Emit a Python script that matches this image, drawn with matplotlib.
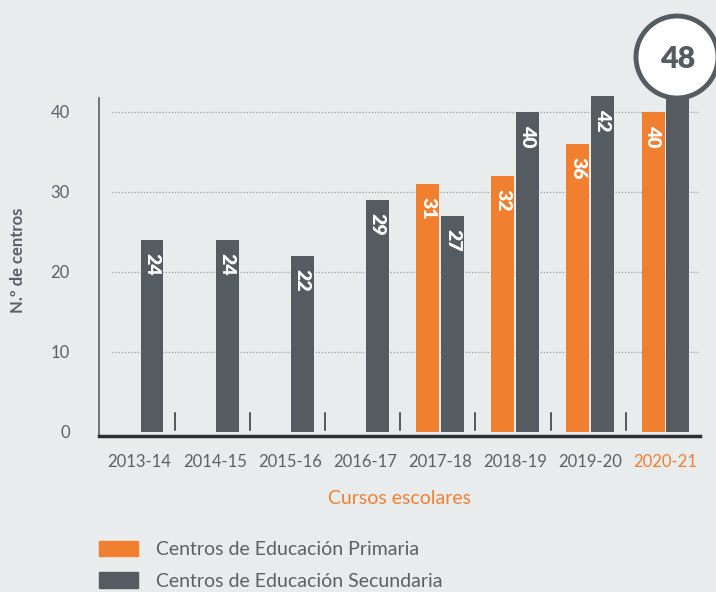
import matplotlib.pyplot as plt
import matplotlib.patches as mpatches
from matplotlib.transforms import IdentityTransform
import numpy as np

plt.rcParams['font.family'] = ['Lato', 'DejaVu Sans']

cursos = ['2013-14', '2014-15', '2015-16', '2016-17', '2017-18', '2018-19', '2019-20', '2020-21']
primaria = [0, 0, 0, 0, 31, 32, 36, 40]
secundaria = [24, 24, 22, 29, 27, 40, 42, 48]

fondo = '#e9ecec'
naranja = '#f08030'
gris = '#545b61'
texto = '#5a6166'

fig = plt.figure(figsize=(7.16, 5.92), dpi=100, facecolor=fondo)
ax = fig.add_axes([99 / 716, 156 / 592, 601 / 716, 338 / 592], facecolor=fondo)

x = np.arange(len(cursos))
w = 0.305
off = 0.165

# lineas de la cuadricula (punteadas)
for v in [10, 20, 30, 40]:
    ax.plot([-0.37, 7.46], [v, v], color='#9aa0a4', lw=0.9, linestyle=(0, (1, 1.5)), zorder=1)

for i in range(len(cursos)):
    if primaria[i] > 0:
        ax.bar(x[i] - off, primaria[i], w, color=naranja, zorder=2)
        ax.text(x[i] - off, primaria[i] - 1.6, str(primaria[i]), rotation=270, ha='center', va='top',
                color='white', fontsize=14, fontweight='heavy', zorder=3)
    ax.bar(x[i] + off, secundaria[i], w, color=gris, zorder=2, clip_on=False)
    if i < len(cursos) - 1:
        ax.text(x[i] + off, secundaria[i] - 1.6, str(secundaria[i]), rotation=270, ha='center', va='top',
                color='white', fontsize=14, fontweight='heavy', zorder=3)

# separadores entre cursos
for i in range(len(cursos) - 1):
    ax.plot([i + 0.47, i + 0.47], [0.2, 2.4], color='#2b2f33', lw=1.1, zorder=2)

ax.set_xlim(-0.54, 7.46)
ax.set_ylim(-0.5, 41.75)
ax.set_yticks([0, 10, 20, 30, 40])
ax.set_xticks(x)
ax.set_xticklabels(cursos)
ax.tick_params(axis='both', length=0, labelsize=12, labelcolor=texto)
ax.tick_params(axis='y', pad=21)
ax.tick_params(axis='x', pad=13)
ax.get_xticklabels()[-1].set_color(naranja)

for s in ['top', 'right']:
    ax.spines[s].set_visible(False)
ax.spines['left'].set_color('#5a6166')
ax.spines['left'].set_linewidth(1.2)
ax.spines['bottom'].set_color('#2b2f33')
ax.spines['bottom'].set_linewidth(2.5)

ax.set_ylabel('N.º de centros', fontsize=12, fontweight='bold', color=texto)
ax.yaxis.set_label_coords(-73 / 601, 0.52)
ax.set_xlabel('Cursos escolares', fontsize=14, color=naranja, labelpad=14)

# circulo con el valor destacado
circ = mpatches.Circle((677, 592 - 57), 41, transform=IdentityTransform(), facecolor='white',
                       edgecolor=gris, lw=3.5, zorder=10)
fig.add_artist(circ)
fig.text(678 / 716, 1 - 59 / 592, str(secundaria[-1]), ha='center', va='center', fontsize=22,
         fontweight='heavy', color=gris, zorder=11)

handles = [mpatches.Patch(color=naranja, label='Centros de Educación Primaria'),
           mpatches.Patch(color=gris, label='Centros de Educación Secundaria')]
fig.legend(handles=handles, loc='upper left', bbox_to_anchor=(91 / 716, 1 - 533 / 592), frameon=False,
           fontsize=14, labelcolor=texto, handlelength=2.0, handleheight=0.85, handletextpad=0.95,
           labelspacing=0.72, borderaxespad=0)

fig.savefig('out.png', dpi=100, facecolor=fondo)
